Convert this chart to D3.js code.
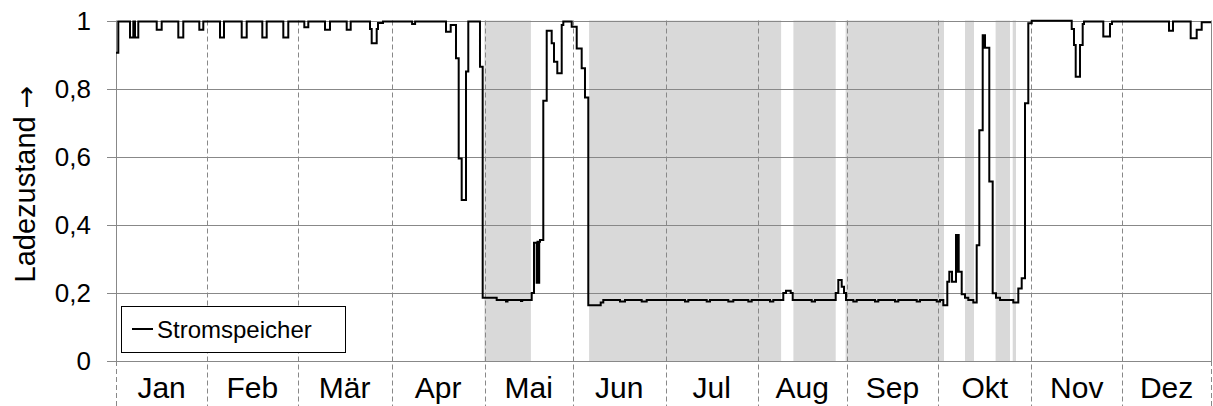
<!DOCTYPE html>
<html>
<head>
<meta charset="utf-8">
<script src="https://cdn.jsdelivr.net/npm/d3@7"></script>
<style>
  html, body { margin: 0; padding: 0; background: #fff; }
  svg { display: block; font-family: "Liberation Sans", Arial, sans-serif; }
</style>
</head>
<body>
<svg id="chart" width="1213" height="406"></svg>
<script>
// ---------- data ----------
const monthLabels = ["Jan", "Feb", "Mär", "Apr", "Mai", "Jun", "Jul", "Aug", "Sep", "Okt", "Nov", "Dez"];
const monthBounds = [0, 30.4, 60.5, 91.9, 122.9, 152.2, 183.3, 213.9, 243.6, 274.1, 305.1, 335.4, 365];
const yTicks = [0, 0.2, 0.4, 0.6, 0.8, 1];
const yTickLabels = ["0", "0,2", "0,4", "0,6", "0,8", "1"];
const yTitleText = "Ladezustand ";
const yTitleArrow = "\u2192";
const seriesName = "Stromspeicher";

// shaded periods (day of year)
const bandStart = [122.8, 157.7, 225.8, 243.2, 283.0, 293.2, 298.9];
const bandEnd   = [138.3, 221.7, 239.9, 276.0, 286.0, 298.0, 300.0];

// state of charge, step series (day of year, value)
const socDay = [
  0, 0.77, 4.67, 5.77, 6.33, 7.43, 13.57, 15.23, 20.77, 22.43, 27.77, 29.1, 34.67, 36.0,
  41.9, 43.57, 48.77, 50.23, 55.77, 57.43, 62.77, 64.1, 69.67, 71.33, 76.9, 78.23,
  84.67, 85.23, 86.9, 87.33, 89, 98.7, 99.7,
  110, 111.57, 113.33, 114.23, 115.23, 116.67, 117.43, 121.33, 122.23, 126.9, 130, 130.5, 135, 135.4,
  138.57, 139.33, 140.23, 140.5, 140.77, 141.07, 141.33, 142.43, 143.57, 145.23, 146, 147.1,
  148.57, 149.1, 151.9, 153.57, 155.23, 156.33, 157.43, 161.57, 162.43,
  168, 169.67, 175.23, 176.9, 189.67, 190.77, 196.9, 198, 204.1, 205.77, 210.77, 211.9, 218, 219.1,
  222.43, 223.33, 224.9, 225.57, 231.9, 233,
  239.9, 240.77, 241.9, 242.67, 243.33,
  245.77, 246.9, 253, 254.1, 259.67, 260.77, 266.9, 268, 273.57, 274.67,
  275.77, 277.1, 277.77, 278.67, 280, 280.35, 280.6, 280.9, 281.9, 283, 284.1, 285.77,
  286.9, 287.77, 288.9, 289.2, 289.4, 289.67, 291.1, 292.23, 293.33, 294.67, 299.1,
  300.77, 301.9, 303, 304.1, 305.23,
  318.57, 319.33, 319.9, 321.33, 322.23, 322.67, 329.1, 331.33, 332,
  351, 352.33, 358.23, 360.23, 361.9, 365
];
const socValue = [
  0.905, 0.997, 0.95, 0.997, 0.95, 0.997, 0.973, 0.997, 0.95, 0.997, 0.973, 0.997, 0.95, 0.997,
  0.95, 0.997, 0.95, 0.997, 0.95, 0.997, 0.98, 0.997, 0.973, 0.997, 0.973, 0.997,
  0.975, 0.933, 0.975, 0.993, 0.997, 0.99, 0.997,
  0.967, 0.987, 0.889, 0.595, 0.473, 0.85, 0.997, 0.864, 0.186, 0.179, 0.175, 0.179, 0.176, 0.179,
  0.2, 0.347, 0.23, 0.35, 0.23, 0.35, 0.355, 0.764, 0.97, 0.933, 0.879, 0.845,
  0.987, 0.997, 0.982, 0.918, 0.86, 0.774, 0.164, 0.172, 0.179,
  0.175, 0.179, 0.175, 0.179, 0.175, 0.179, 0.175, 0.179, 0.175, 0.179, 0.175, 0.179, 0.175, 0.179,
  0.2, 0.206, 0.2, 0.179, 0.175, 0.179,
  0.2, 0.238, 0.218, 0.2, 0.179,
  0.175, 0.179, 0.175, 0.179, 0.175, 0.179, 0.175, 0.179, 0.175, 0.179,
  0.164, 0.233, 0.262, 0.233, 0.37, 0.262, 0.37, 0.262, 0.196, 0.186, 0.179, 0.172,
  0.34, 0.678, 0.957, 0.92, 0.957, 0.92, 0.527, 0.199, 0.186, 0.179, 0.172,
  0.213, 0.243, 0.757, 0.992, 0.999,
  0.975, 0.928, 0.835, 0.928, 0.99, 0.997, 0.953, 0.99, 0.997,
  0.97, 0.997, 0.948, 0.973, 0.995, 0.995
];

// ---------- layout ----------
const svg = d3.select("#chart");
const W = 1213, H = 406;
const pLeft = 116, pRight = 1211, pTop = 20.5, pBottom = 361;
const x = d3.scaleLinear().domain([0, 365]).range([pLeft, pRight]);
const y = d3.scaleLinear().domain([0, 1]).range([pBottom, pTop]);
const gridColor = "#888888";

svg.append("rect").attr("width", W).attr("height", H).attr("fill", "#fff");

// shaded bands
svg.append("g").selectAll("rect")
  .data(bandStart.map((s, i) => [s, bandEnd[i]]))
  .join("rect")
  .attr("x", d => x(d[0]))
  .attr("y", pTop)
  .attr("width", d => x(d[1]) - x(d[0]))
  .attr("height", pBottom - pTop)
  .attr("fill", "#d9d9d9");

// horizontal gridlines + tick marks
svg.append("g").selectAll("line")
  .data(yTicks)
  .join("line")
  .attr("x1", pLeft - 9).attr("x2", pRight)
  .attr("y1", d => Math.round(y(d)) + 0.5).attr("y2", d => Math.round(y(d)) + 0.5)
  .attr("stroke", gridColor).attr("stroke-width", 1);

// month dashed lines (inside plot and through the label area)
svg.append("g").selectAll("line")
  .data(monthBounds.slice(1, -1))
  .join("line")
  .attr("x1", d => Math.round(x(d)) + 0.5).attr("x2", d => Math.round(x(d)) + 0.5)
  .attr("y1", pTop).attr("y2", H)
  .attr("stroke", gridColor).attr("stroke-width", 1).attr("stroke-dasharray", "5,3");

// dashed continuation of the outer bounds below the axis
svg.append("g").selectAll("line")
  .data([monthBounds[0], monthBounds[monthBounds.length - 1]])
  .join("line")
  .attr("x1", d => Math.round(x(d)) + 0.5).attr("x2", d => Math.round(x(d)) + 0.5)
  .attr("y1", pBottom).attr("y2", H)
  .attr("stroke", gridColor).attr("stroke-width", 1).attr("stroke-dasharray", "5,3");

// plot left / right borders
svg.append("g").selectAll("line")
  .data([0, 365])
  .join("line")
  .attr("x1", d => Math.round(x(d)) + 0.5).attr("x2", d => Math.round(x(d)) + 0.5)
  .attr("y1", pTop).attr("y2", pBottom)
  .attr("stroke", gridColor).attr("stroke-width", 1);

// series line
const series = socDay.map((d, i) => [d, socValue[i]]);
const line = d3.line().x(d => x(d[0])).y(d => y(d[1])).curve(d3.curveStepAfter);
svg.append("path")
  .datum(series)
  .attr("d", line)
  .attr("fill", "none")
  .attr("stroke", "#000")
  .attr("stroke-width", 2)
  .attr("stroke-linejoin", "miter");

// y tick labels
svg.append("g").selectAll("text")
  .data(yTicks)
  .join("text")
  .attr("x", 91)
  .attr("y", d => y(d) + 9)
  .attr("text-anchor", "end")
  .attr("font-size", 26)
  .attr("fill", "#000")
  .text((d, i) => yTickLabels[i]);

// month labels
svg.append("g").selectAll("text")
  .data(monthLabels)
  .join("text")
  .attr("x", (d, i) => (x(monthBounds[i]) + x(monthBounds[i + 1])) / 2)
  .attr("y", 398)
  .attr("text-anchor", "middle")
  .attr("font-size", 30)
  .attr("fill", "#000")
  .text(d => d);

// y title
const yt = svg.append("text")
  .attr("transform", "translate(35,184) rotate(-90)")
  .attr("text-anchor", "middle")
  .attr("font-size", 29)
  .attr("fill", "#000");
yt.append("tspan").text(yTitleText);
yt.append("tspan").attr("font-family", "DejaVu Sans").attr("font-size", 27).text(yTitleArrow);

// legend
const lg = svg.append("g");
lg.append("rect")
  .attr("x", 121.5).attr("y", 306.5).attr("width", 224).attr("height", 46)
  .attr("fill", "#fff").attr("stroke", "#000").attr("stroke-width", 1);
lg.append("line")
  .attr("x1", 132).attr("x2", 153).attr("y1", 329).attr("y2", 329)
  .attr("stroke", "#000").attr("stroke-width", 2);
lg.append("text")
  .attr("x", 157).attr("y", 338)
  .attr("font-size", 24)
  .attr("fill", "#000")
  .text(seriesName);
</script>
</body>
</html>
